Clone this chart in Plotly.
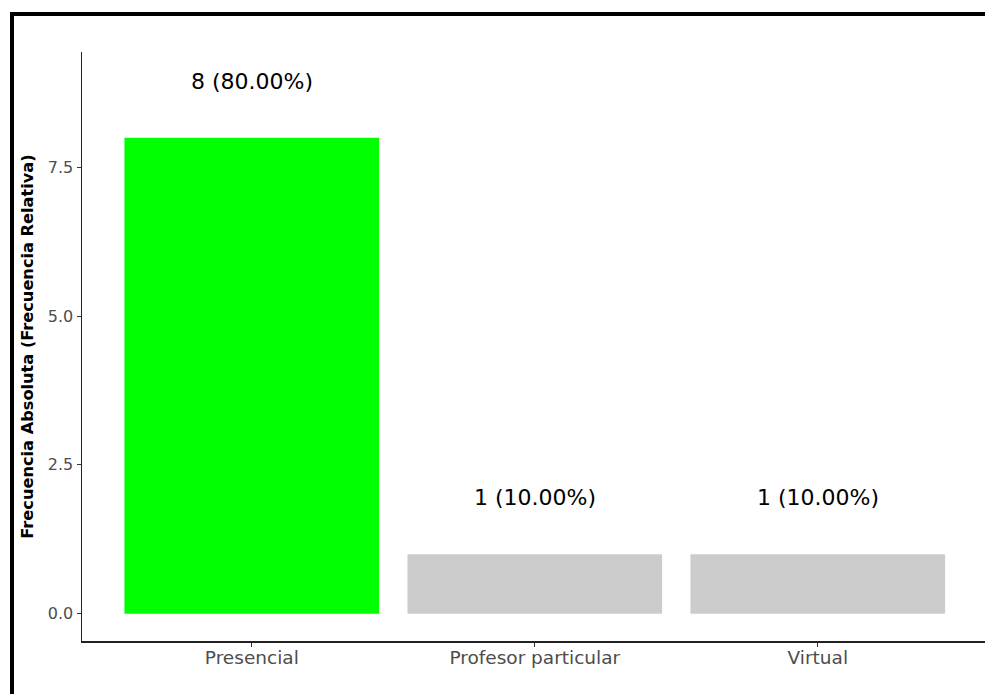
import plotly.graph_objects as go

categories = ["Presencial", "Profesor particular", "Virtual"]
counts = [8, 1, 1]
bar_colors = ["#00FF00", "#CCCCCC", "#CCCCCC"]
y_tick_vals = [0, 2.5, 5, 7.5]
y_tick_text = ["0.0", "2.5", "5.0", "7.5"]
y_title = "Frecuencia Absoluta (Frecuencia Relativa)"

total = sum(counts)
labels = [f"{c} ({c / total * 100:.2f}%)" for c in counts]
label_y = [c + 1 for c in counts]
xs = list(range(len(categories)))

W, H = 985, 694
ML, MR, MT, MB = 82, 0, 52, 53
PW = W - ML - MR
PH = H - MT - MB

def px_x(p):
    return (p - ML) / PW

def px_y(p):
    return (H - MB - p) / PH

fig = go.Figure()
fig.add_trace(go.Bar(
    x=xs, y=counts, width=0.9,
    marker=dict(color=bar_colors, line=dict(width=0)),
    showlegend=False, hoverinfo="skip",
))

annotations = [
    dict(x=x, y=y, text=t, xref="x", yref="y", showarrow=False,
         xanchor="center", yanchor="middle", yshift=-3,
         font=dict(family="DejaVu Sans", size=22, color="#000000"))
    for x, y, t in zip(xs, label_y, labels)
]

fig.update_layout(
    width=W, height=H,
    margin=dict(l=ML, r=MR, t=MT, b=MB, pad=0),
    plot_bgcolor="white", paper_bgcolor="white",
    font=dict(family="DejaVu Sans"),
    annotations=annotations,
    hovermode=False,
    shapes=[
        dict(type="line", xref="paper", yref="paper",
             x0=px_x(12), x1=px_x(12), y0=px_y(12), y1=px_y(720),
             line=dict(color="black", width=4)),
        dict(type="line", xref="paper", yref="paper",
             x0=px_x(10), x1=px_x(1000), y0=px_y(14), y1=px_y(14),
             line=dict(color="black", width=4)),
    ],
)
fig.update_xaxes(
    range=[-0.6, -0.6 + PW / 283.0],
    tickmode="array", tickvals=xs, ticktext=categories,
    showline=True, linecolor="#222222", linewidth=1.5,
    ticks="outside", ticklen=4, tickcolor="#333333", tickwidth=1,
    ticklabelstandoff=-5,
    tickfont=dict(family="DejaVu Sans", size=18.5, color="#4d4d4d"),
    showgrid=False, zeroline=False,
)
fig.update_yaxes(
    range=[-0.46, 9.44],
    tickmode="array", tickvals=y_tick_vals, ticktext=y_tick_text,
    showline=True, linecolor="#222222", linewidth=1.5,
    ticks="outside", ticklen=4, tickcolor="#333333", tickwidth=1,
    tickfont=dict(family="DejaVu Sans", size=16, color="#4d4d4d"),
    showgrid=False, zeroline=False,
    title=dict(text=y_title, standoff=10,
               font=dict(family="DejaVu Sans", size=16.2, color="#000000", weight="bold")),
)

fig.write_html(
    "out.html",
    config={"displayModeBar": False, "staticPlot": True},
    post_script="document.body.style.margin='0';document.body.style.overflow='hidden';",
)
